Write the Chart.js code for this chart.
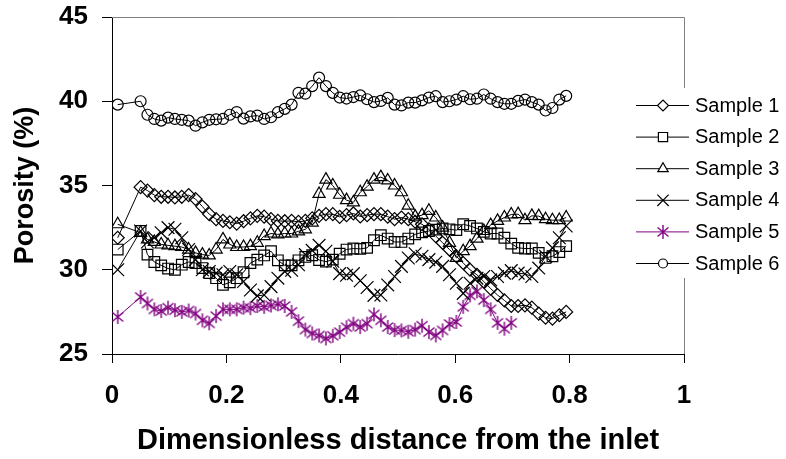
<!DOCTYPE html>
<html>
<head>
<meta charset="utf-8">
<script src="https://cdn.jsdelivr.net/npm/chart.js@4.4.1/dist/chart.umd.min.js"></script>
<style>
  body { margin: 0; background: #fff; }
  #wrap { width: 786px; height: 459px; }
</style>
</head>
<body>
<div id="wrap"><canvas id="porosityChart" width="786" height="459"></canvas></div>
<script>
// distance along the core, shared by every sample
const distance = [0.01, 0.05, 0.062, 0.074, 0.086, 0.098, 0.11, 0.122, 0.134, 0.146,
  0.158, 0.17, 0.182, 0.194, 0.206, 0.218, 0.23, 0.242, 0.254, 0.266,
  0.278, 0.29, 0.302, 0.314, 0.326, 0.338, 0.35, 0.362, 0.374, 0.386,
  0.398, 0.41, 0.422, 0.434, 0.446, 0.458, 0.47, 0.482, 0.494, 0.506,
  0.518, 0.53, 0.542, 0.554, 0.566, 0.578, 0.59, 0.602, 0.614, 0.626,
  0.638, 0.65, 0.662, 0.674, 0.686, 0.698, 0.71, 0.722, 0.734, 0.746,
  0.758, 0.77, 0.782, 0.794];

const sample1 = [31.9, 34.9, 34.7, 34.43, 34.33, 34.33, 34.29, 34.33, 34.43, 34.2,
  33.75, 33.3, 33.0, 32.9, 32.82, 32.74, 32.88, 33.05, 33.2, 33.15,
  33.0, 32.9, 32.88, 32.9, 32.84, 32.9, 33.05, 33.2, 33.3, 33.3,
  33.14, 33.24, 33.34, 33.16, 33.24, 33.3, 33.3, 33.15, 33.0, 33.1,
  33.0, 32.85, 32.7, 32.4, 32.0, 31.6, 31.2, 30.8, 30.4, 30.0,
  29.7, 29.3, 28.88, 28.5, 28.18, 27.85, 27.85, 27.89, 27.75, 27.4,
  27.15, 27.1, 27.3, 27.5];

const sample2 = [31.2, 32.3, 30.9, 30.46, 30.26, 30.07, 30.0, 30.3, 30.46, 30.4,
  30.1, 29.8, 29.5, 29.1, 29.25, 29.5, 29.85, 30.4, 30.6, 30.85,
  31.1, 30.56, 30.26, 30.26, 30.56, 30.76, 30.86, 30.58, 30.48, 30.6,
  30.95, 31.2, 31.26, 31.24, 31.3, 31.75, 32.05, 31.85, 31.65, 31.65,
  31.85, 32.1, 32.22, 32.3, 32.38, 32.45, 32.4, 32.35, 32.7, 32.6,
  32.45, 32.25, 32.15, 32.15, 31.9, 31.55, 31.3, 31.26, 31.26, 31.0,
  30.7, 30.8, 31.05, 31.4];

const sample3 = [32.7, 32.2, 31.8, 31.65, 31.5, 31.45, 31.4, 31.35, 31.2, 31.0,
  30.9, 30.85, 31.2, 31.8, 31.5, 31.35, 31.35, 31.4, 31.6, 32.0,
  32.15, 32.1, 32.15, 32.15, 32.28, 32.4, 32.8, 34.5, 35.35, 35.0,
  34.45, 34.13, 34.0, 34.6, 34.93, 35.35, 35.5, 35.3, 35.0, 34.6,
  33.8, 33.15, 33.24, 33.5, 33.1, 32.5, 31.6, 30.7, 31.1, 31.4,
  31.85, 32.3, 32.65, 32.9, 33.1, 33.28, 33.3, 32.94, 33.2, 33.18,
  33.0, 32.94, 32.95, 33.1];

const sample4 = [30.0, 32.3, 31.65, 31.9, 32.2, 32.5, 32.4, 31.9, 31.2, 30.6,
  30.0, 29.9, 29.8, 29.7, 29.9, 29.7, 29.3, 28.8, 28.45, 28.5,
  29.0, 29.5, 29.9, 29.97, 30.3, 30.9, 31.15, 31.45, 31.1, 30.5,
  29.77, 29.67, 29.77, 29.35, 28.95, 28.48, 28.5, 29.1, 29.6, 30.2,
  30.7, 30.95, 30.8, 30.6, 30.45, 30.2, 29.7, 29.2, 28.6, 29.2,
  29.5, 29.6, 29.4, 29.6, 29.8, 29.95, 29.8, 29.75, 29.6, 30.1,
  30.8, 31.3, 31.9, 32.6];

const sample5 = [27.2, 28.38, 28.0, 27.65, 27.55, 27.75, 27.6, 27.5, 27.58, 27.4,
  27.0, 26.82, 27.25, 27.65, 27.65, 27.65, 27.75, 27.72, 27.85, 27.8,
  27.88, 27.95, 27.85, 27.5, 26.95, 26.45, 26.22, 26.1, 25.92, 26.08,
  26.3, 26.59, 26.8, 26.6, 26.8, 27.35, 27.0, 26.6, 26.42, 26.4,
  26.32, 26.45, 26.68, 26.3, 26.1, 26.4, 26.78, 26.9, 27.8, 28.48,
  28.72, 28.2, 27.65, 26.85, 26.5, 26.85, null, null, null, null,
  null, null, null, null];

const sample6 = [39.8, 40.0, 39.2, 38.95, 38.85, 39.03, 38.95, 38.9, 38.85, 38.55,
  38.75, 38.9, 38.93, 38.95, 39.2, 39.36, 38.97, 39.1, 39.15, 38.95,
  39.05, 39.35, 39.55, 39.8, 40.5, 40.45, 40.9, 41.4, 40.9, 40.5,
  40.22, 40.16, 40.25, 40.35, 40.12, 39.95, 40.02, 40.2, 39.8, 39.75,
  39.92, 39.92, 40.05, 40.22, 40.3, 39.95, 40.0, 40.1, 40.3, 40.12,
  40.15, 40.4, 40.15, 39.95, 39.85, 39.85, 40.02, 40.1, 39.95, 39.8,
  39.45, 39.6, 40.1, 40.32];

const sampleNames = ["Sample 1", "Sample 2", "Sample 3", "Sample 4", "Sample 5", "Sample 6"];
const xTicks = [0, 0.2, 0.4, 0.6, 0.8, 1];
const yTicks = [25, 30, 35, 40, 45];

const FONT = "'Liberation Sans', Arial, sans-serif";
const PURPLE = "#800080";

// asterisk marker (vertical stroke + X)
function makeAsterisk(color) {
  const c = document.createElement("canvas");
  c.width = 16; c.height = 16;
  const g = c.getContext("2d");
  g.strokeStyle = color;
  g.lineWidth = 1.4;
  g.beginPath();
  g.moveTo(8, 1); g.lineTo(8, 15);
  g.moveTo(2.5, 3.5); g.lineTo(13.5, 12.5);
  g.moveTo(13.5, 3.5); g.lineTo(2.5, 12.5);
  g.stroke();
  return c;
}
const asterisk = makeAsterisk(PURPLE);

const styles = [
  { pointStyle: "rectRot", radius: 6.5, color: "#000" },
  { pointStyle: "rect", radius: 7.5, color: "#000" },
  { pointStyle: "triangle", radius: 7, color: "#000" },
  { pointStyle: "crossRot", radius: 9, color: "#000" },
  { pointStyle: asterisk, radius: 8, color: PURPLE },
  { pointStyle: "circle", radius: 5.5, color: "#000" }
];

const seriesValues = [sample1, sample2, sample3, sample4, sample5, sample6];

const datasets = seriesValues.map((vals, i) => ({
  label: sampleNames[i],
  data: distance.map((x, k) => ({ x: x, y: vals[k] })).filter(p => p.y !== null),
  borderColor: styles[i].color,
  borderWidth: 1,
  backgroundColor: "rgba(0,0,0,0)",
  pointStyle: styles[i].pointStyle,
  pointRadius: styles[i].radius,
  pointBorderColor: styles[i].color,
  pointBackgroundColor: "rgba(0,0,0,0)",
  pointBorderWidth: 1.2,
  tension: 0,
  fill: false
}));

// grey frame on top/right of the plot
const framePlugin = {
  id: "frame",
  beforeDatasetsDraw(chart) {
    const { ctx, chartArea: a } = chart;
    ctx.save();
    ctx.strokeStyle = "#808080";
    ctx.lineWidth = 1;
    ctx.beginPath();
    ctx.moveTo(a.left, a.top + 0.5);
    ctx.lineTo(a.right + 0.5, a.top + 0.5);
    ctx.lineTo(a.right + 0.5, a.bottom);
    ctx.stroke();
    ctx.restore();
  }
};

// legend drawn over the right edge of the plot
const sideLegend = {
  id: "sideLegend",
  afterDraw(chart) {
    const ctx = chart.ctx;
    ctx.save();
    ctx.fillStyle = "#fff";
    ctx.fillRect(630, 88, 156, 190);
    const lineX0 = 636, lineX1 = 689, markX = 663, textX = 695;
    sampleNames.forEach((name, i) => {
      const y = 105 + i * 31.6;
      const st = styles[i];
      ctx.strokeStyle = st.color;
      ctx.lineWidth = 1;
      ctx.beginPath();
      ctx.moveTo(lineX0, y + 0.5);
      ctx.lineTo(lineX1, y + 0.5);
      ctx.stroke();
      ctx.fillStyle = "#fff";
      ctx.lineWidth = 1.2;
      Chart.helpers.drawPoint(ctx, {
        pointStyle: st.pointStyle, radius: st.radius - 1, rotation: 0, borderWidth: 1.2
      }, markX, y + 0.5);
      ctx.fillStyle = "#000";
      ctx.font = "20px " + FONT;
      ctx.textBaseline = "middle";
      ctx.textAlign = "left";
      ctx.fillText(name, textX, y + 1);
    });
    ctx.restore();
  }
};

const tickFont = { family: FONT, size: 26, weight: "bold" };

new Chart(document.getElementById("porosityChart"), {
  type: "line",
  data: { datasets: datasets },
  options: {
    responsive: false,
    animation: false,
    devicePixelRatio: 1,
    layout: { padding: { top: 17, right: 102, left: 0, bottom: 0 } },
    plugins: { legend: { display: false }, tooltip: { enabled: false } },
    scales: {
      x: {
        type: "linear",
        min: xTicks[0],
        max: xTicks[xTicks.length - 1],
        afterBuildTicks: s => { s.ticks = xTicks.map(v => ({ value: v })); },
        afterFit: s => { s.height = 105; s.paddingLeft = 0; s.paddingRight = 0; },
        ticks: { color: "#000", font: tickFont, padding: 17, maxRotation: 0, callback: v => String(v) },
        grid: { drawOnChartArea: false, drawTicks: true, tickLength: 9, tickColor: "#000" },
        border: { color: "#000", width: 1 },
        title: {
          display: true,
          text: "Dimensionless distance from the inlet",
          color: "#000",
          font: { family: FONT, size: 29, weight: "bold" },
          padding: { top: 0, bottom: 1 }
        }
      },
      y: {
        min: yTicks[0],
        max: yTicks[yTicks.length - 1],
        afterBuildTicks: s => { s.ticks = yTicks.map(v => ({ value: v })); },
        afterFit: s => { s.width = 112; s.paddingTop = 0; s.paddingBottom = 0; },
        ticks: { color: "#000", font: tickFont, padding: 14, callback: v => String(v) },
        grid: { drawOnChartArea: false, drawTicks: true, tickLength: 10, tickColor: "#000" },
        border: { color: "#000", width: 1 },
        title: {
          display: true,
          text: "Porosity (%)",
          color: "#000",
          font: { family: FONT, size: 27, weight: "bold" },
          padding: { top: 9, bottom: 0 }
        }
      }
    }
  },
  plugins: [framePlugin, sideLegend]
});
</script>
</body>
</html>
